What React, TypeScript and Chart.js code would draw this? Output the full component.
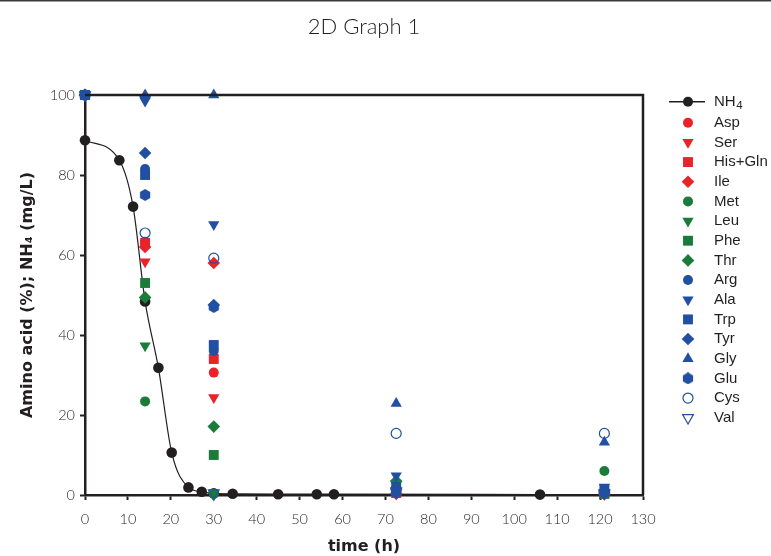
import React, { useEffect, useRef } from 'react';
import { Chart, registerables } from 'chart.js';
import { drawPoint } from 'chart.js/helpers';

Chart.register(...registerables);

// ---------- data ----------
const TITLE = '2D Graph 1';
const X_TITLE = 'time (h)';
const Y_TITLE = 'Amino acid (%); NH\u2084 (mg/L)';

const nh4Time = [0, 8, 11.2, 14, 17.1, 20.2, 24.1, 27.2, 30, 34.4, 45, 54, 58, 106];
const nh4Values = [88.7, 83.7, 72.1, 48.4, 31.8, 10.6, 1.9, 0.8, 0.4, 0.3, 0.2, 0.2, 0.2, 0.1];

const sampleTimes = [0, 14, 30, 72.5, 121];

const asp = [100, 63.3, 30.6, 0.5, 0.3];
const ser = [100, 58.3, 24.4, 0.3, 0.2];
const hisGln = [100, 63, 34, 0.5, 0.3];
const ile = [100, 62, 58, 0.3, 0.2];
const met = [100, 23.4, 0.3, 1.5, 6];
const leu = [100, 37.3, 0, 2.5, 0.5];
const phe = [100, 53, 10, 1, 0.3];
const thr = [100, 49.4, 17.1, 3.5, 0.5];
const arg = [100, 81.5, 36, 1, 0.5];
const ala = [100, 98.5, 67.6, 4.8, 2];
const trp = [100, 80, 37.5, 2, 1.5];
const tyr = [100, 85.5, 47.5, 1.5, 1];
const gly = [100, 100, 100, 22.9, 13.2];
const glu = [100, 75, 47, 0.5, 0.5];
const cys = [100, 65.5, 59.2, 15.4, 15.4];
const val = [100, 99, 0.5, 1, 0.5];

const aminoNames = ['Asp', 'Ser', 'His+Gln', 'Ile', 'Met', 'Leu', 'Phe', 'Thr', 'Arg', 'Ala', 'Trp', 'Tyr', 'Gly', 'Glu', 'Cys', 'Val'];
const aminoValues = [asp, ser, hisGln, ile, met, leu, phe, thr, arg, ala, trp, tyr, gly, glu, cys, val];

// ---------- styles ----------
const RED = '#e8232a';
const GREEN = '#1b7c3a';
const BLUE = '#2150a2';
const BLACK = '#231f20';

const aminoColors = [RED, RED, RED, RED, GREEN, GREEN, GREEN, GREEN, BLUE, BLUE, BLUE, BLUE, BLUE, BLUE, BLUE, BLUE];
const aminoShapes = ['circle', 'triDown', 'rect', 'rectRot', 'circle', 'triDown', 'rect', 'rectRot', 'circle', 'triDown', 'rect', 'rectRot', 'triangle', 'hexagon', 'openCircle', 'openTriDown'];

function makeHexagon(color: string): HTMLCanvasElement {
  const c = document.createElement('canvas');
  c.width = 12;
  c.height = 12;
  const g = c.getContext('2d')!;
  g.fillStyle = color;
  g.beginPath();
  for (let k = 0; k < 6; k++) {
    const a = -Math.PI / 2 + (k * Math.PI) / 3;
    const px = 6 + Math.cos(a) * 5.9;
    const py = 6 + Math.sin(a) * 5.9;
    if (k === 0) g.moveTo(px, py);
    else g.lineTo(px, py);
  }
  g.closePath();
  g.fill();
  return c;
}

function shapeOpts(shape: string, color: string) {
  switch (shape) {
    case 'circle':
      return { pointStyle: 'circle', radius: 5, rotation: 0, bg: color, border: color, bw: 0 };
    case 'openCircle':
      return { pointStyle: 'circle', radius: 5, rotation: 0, bg: 'rgba(0,0,0,0)', border: color, bw: 1.2 };
    case 'triDown':
      return { pointStyle: 'triangle', radius: 6.5, rotation: 180, bg: color, border: color, bw: 0 };
    case 'openTriDown':
      return { pointStyle: 'triangle', radius: 6.2, rotation: 180, bg: 'rgba(0,0,0,0)', border: color, bw: 1.2 };
    case 'triangle':
      return { pointStyle: 'triangle', radius: 6.5, rotation: 0, bg: color, border: color, bw: 0 };
    case 'rect':
      return { pointStyle: 'rect', radius: 7, rotation: 0, bg: color, border: color, bw: 0 };
    case 'rectRot':
      return { pointStyle: 'rectRot', radius: 6.3, rotation: 0, bg: color, border: color, bw: 0 };
    case 'hexagon':
    default:
      return { pointStyle: makeHexagon(color), radius: 6, rotation: 0, bg: color, border: color, bw: 0 };
  }
}

export default function App() {
  const ref = useRef<HTMLCanvasElement>(null);

  useEffect(() => {
    document.body.style.margin = '0';
    const canvas = ref.current!;
    const styles = aminoShapes.map((s, i) => shapeOpts(s, aminoColors[i]));

    const datasets: any[] = [
      {
        label: 'NH4',
        data: nh4Time.map((t, i) => ({ x: t, y: nh4Values[i] })),
        showLine: true,
        cubicInterpolationMode: 'monotone',
        borderColor: BLACK,
        borderWidth: 1.2,
        backgroundColor: BLACK,
        pointBackgroundColor: BLACK,
        pointBorderColor: BLACK,
        pointBorderWidth: 0,
        pointRadius: 5.3,
        pointStyle: 'circle',
        clip: false,
        order: 0,
      },
      ...aminoNames.map((name, i) => ({
        label: name,
        data: sampleTimes.map((t, j) => ({ x: t, y: aminoValues[i][j] })),
        showLine: false,
        pointStyle: styles[i].pointStyle,
        pointRadius: styles[i].radius,
        pointRotation: styles[i].rotation,
        pointBackgroundColor: styles[i].bg,
        pointBorderColor: styles[i].border,
        pointBorderWidth: styles[i].bw,
        backgroundColor: styles[i].bg,
        borderColor: styles[i].border,
        clip: false,
        order: -(i + 1),
      })),
    ];

    const decor = {
      id: 'decor',
      afterDraw(chart: any) {
        const ctx = chart.ctx as CanvasRenderingContext2D;
        const a = chart.chartArea;
        ctx.save();
        // page top rule
        ctx.fillStyle = '#3a3a3a';
        ctx.fillRect(0, 0, chart.width, 1.5);
        // frame top/right
        ctx.strokeStyle = BLACK;
        ctx.lineWidth = 2.5;
        ctx.beginPath();
        ctx.moveTo(a.left, a.top);
        ctx.lineTo(a.right, a.top);
        ctx.lineTo(a.right, a.bottom);
        ctx.stroke();
        // title
        ctx.fillStyle = BLACK;
        ctx.font = '300 22px Lato';
        ctx.textAlign = 'center';
        ctx.textBaseline = 'middle';
        ctx.fillText(TITLE, (a.left + a.right) / 2, 27);

        // legend
        const mx = a.right + 45;
        const tx = a.right + 71;
        // NH4 entry
        const y0 = a.top + 6.7;
        ctx.strokeStyle = BLACK;
        ctx.lineWidth = 1.5;
        ctx.beginPath();
        ctx.moveTo(mx - 19, y0);
        ctx.lineTo(mx + 17, y0);
        ctx.stroke();
        ctx.fillStyle = BLACK;
        ctx.beginPath();
        ctx.arc(mx, y0, 5, 0, Math.PI * 2);
        ctx.fill();
        ctx.textAlign = 'left';
        ctx.textBaseline = 'middle';
        ctx.font = '15px "Liberation Sans"';
        ctx.fillText('NH', tx, y0);
        const w = ctx.measureText('NH').width;
        ctx.font = '11.5px "Liberation Sans"';
        ctx.fillText('4', tx + w + 0.5, y0 + 4.5);

        ctx.font = '15px "Liberation Sans"';
        aminoNames.forEach((name, i) => {
          const y = a.top + 27.7 + i * 19.67;
          const s = styles[i];
          ctx.fillStyle = s.bg;
          ctx.strokeStyle = s.border;
          ctx.lineWidth = s.bw;
          drawPoint(ctx, { pointStyle: s.pointStyle as any, radius: s.radius, rotation: s.rotation, borderWidth: s.bw } as any, mx, y);
          ctx.fillStyle = BLACK;
          ctx.fillText(name, tx, y);
        });
        ctx.restore();
      },
    };

    const chart = new Chart(canvas, {
      type: 'scatter',
      data: { datasets },
      options: {
        animation: false,
        responsive: false,
        events: [],
        layout: { padding: { top: 95, right: 128, left: 0, bottom: 0 } },
        plugins: {
          legend: { display: false },
          title: { display: false },
          tooltip: { enabled: false },
        },
        scales: {
          x: {
            type: 'linear',
            min: 0,
            max: 130,
            afterFit: (s: any) => {
              s.height = 61;
            },
            ticks: {
              stepSize: 10,
              padding: 11,
              color: BLACK,
              font: { family: 'Lato', size: 14.5, weight: '300' as any },
            },
            grid: {
              drawOnChartArea: false,
              drawTicks: true,
              tickLength: 5,
              tickColor: BLACK,
              tickWidth: 2,
              color: BLACK,
            },
            border: { display: true, color: BLACK, width: 2.5 },
            title: {
              display: true,
              text: X_TITLE,
              color: BLACK,
              font: { family: 'DejaVu Sans', size: 16, weight: 'bold' },
              padding: { top: 0, bottom: 0 },
            },
          },
          y: {
            type: 'linear',
            min: 0,
            max: 100,
            afterFit: (s: any) => {
              s.width = 85;
            },
            ticks: {
              stepSize: 20,
              padding: 5,
              color: BLACK,
              font: { family: 'Lato', size: 14.5, weight: '300' as any },
            },
            grid: {
              drawOnChartArea: false,
              drawTicks: true,
              tickLength: 5,
              tickColor: BLACK,
              tickWidth: 2,
              color: BLACK,
            },
            border: { display: true, color: BLACK, width: 2.5 },
            title: {
              display: true,
              text: Y_TITLE,
              color: BLACK,
              font: { family: 'DejaVu Sans', size: 16, weight: 'bold' },
              padding: { top: 18, bottom: 0 },
            },
          },
        },
      },
      plugins: [decor],
    });

    return () => chart.destroy();
  }, []);

  return (
    <div style={{ position: 'absolute', left: 0, top: 0, width: 771, height: 556, background: '#fff' }}>
      <canvas ref={ref} width={771} height={556} style={{ display: 'block' }} />
    </div>
  );
}
